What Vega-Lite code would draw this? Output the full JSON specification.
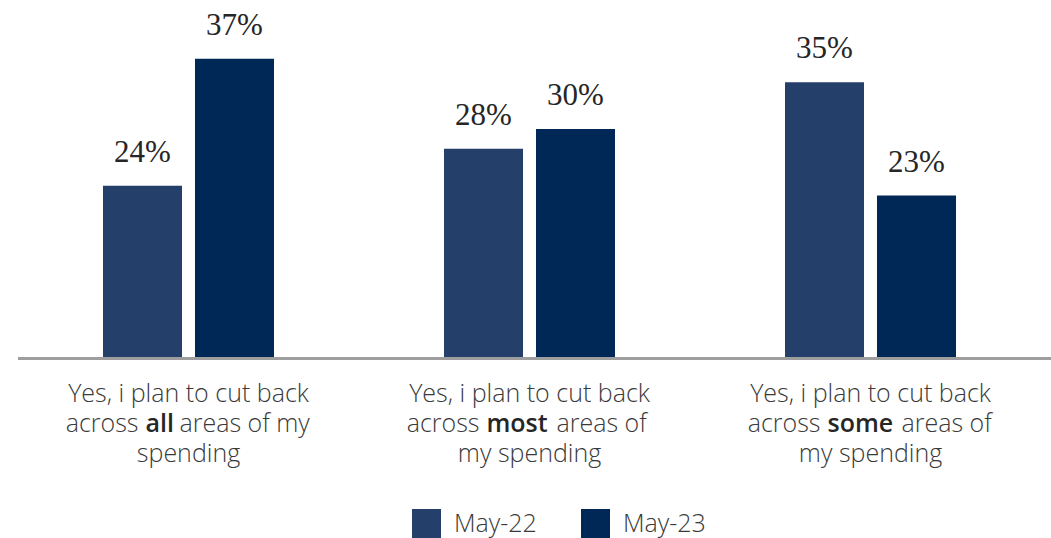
{
  "$schema": "https://vega.github.io/schema/vega-lite/v6.json",
  "width": 1033,
  "height": 357,
  "autosize": {"type": "none"},
  "padding": {"left": 18, "top": 0, "right": 0, "bottom": 181},
  "background": "white",
  "config": {"view": {"stroke": null}, "font": "Open Sans"},
  "datasets": {
    "bars": [
      {"cat": "all", "period": "May-22", "value": 0.240},
      {"cat": "all", "period": "May-23", "value": 0.370},
      {"cat": "most", "period": "May-22", "value": 0.278},
      {"cat": "most", "period": "May-23", "value": 0.298},
      {"cat": "some", "period": "May-22", "value": 0.346},
      {"cat": "some", "period": "May-23", "value": 0.230}
    ],
    "lines": [
      {"cat": "all", "l1": "Yes, i plan to cut back", "pre": "across", "bold": "all", "post": "areas of my", "l3": "spending"},
      {"cat": "most", "l1": "Yes, i plan to cut back", "pre": "across", "bold": "most", "post": "areas of", "l3": "my spending"},
      {"cat": "some", "l1": "Yes, i plan to cut back", "pre": "across", "bold": "some", "post": "areas of", "l3": "my spending"}
    ]
  },
  "resolve": {"scale": {"x": "shared", "y": "shared"}},
  "layer": [
    {
      "data": {"values": [{}]},
      "mark": {"type": "rule", "color": "#9E9E9E", "strokeWidth": 3},
      "encoding": {
        "y": {"datum": 0.0635, "type": "quantitative",
              "scale": {"domain": [0.065, 0.43], "zero": false, "nice": false}, "axis": null}
      }
    },
    {
      "data": {"name": "bars"},
      "mark": {"type": "bar"},
      "encoding": {
        "x": {
          "field": "cat", "type": "nominal", "sort": null,
          "scale": {"domain": ["all", "most", "some"], "range": [0, 1023], "paddingInner": 0, "paddingOuter": 0},
          "axis": null
        },
        "xOffset": {
          "field": "period", "type": "nominal",
          "scale": {"paddingInner": 0.1413, "paddingOuter": 0.924}
        },
        "y": {"field": "value", "type": "quantitative", "axis": null},
        "y2": {"datum": 0.065},
        "color": {
          "field": "period", "type": "nominal",
          "scale": {"domain": ["May-22", "May-23"], "range": ["#233F6A", "#002856"]},
          "legend": {
            "title": null, "orient": "none", "direction": "horizontal",
            "legendX": 394, "legendY": 509,
            "symbolType": "square", "symbolSize": 841, "symbolStrokeWidth": 0,
            "symbolOpacity": 1,
            "labelFont": "Open Sans", "labelFontWeight": 300, "labelFontSize": 25,
            "labelColor": "#3a3a3a", "labelOffset": 13, "columnPadding": 44
          }
        }
      }
    },
    {
      "data": {"name": "bars"},
      "mark": {"type": "text", "baseline": "alphabetic", "dy": -24,
               "font": "Liberation Serif", "fontSize": 31, "color": "#262626"},
      "encoding": {
        "x": {"field": "cat", "type": "nominal", "sort": null},
        "xOffset": {"field": "period", "type": "nominal"},
        "y": {"field": "value", "type": "quantitative"},
        "text": {"field": "value", "type": "quantitative", "format": ".0%"}
      }
    },
    {
      "data": {"name": "lines"},
      "mark": {"type": "text", "baseline": "alphabetic", "align": "center", "dy": 45,
               "font": "Open Sans", "fontWeight": 300, "fontSize": 25, "color": "#3a3a3a"},
      "encoding": {
        "x": {"field": "cat", "type": "nominal", "sort": null},
        "y": {"datum": 0.065, "type": "quantitative"},
        "text": {"field": "l1"}
      }
    },
    {
      "data": {"name": "lines"},
      "mark": {"type": "text", "baseline": "alphabetic", "align": "right", "dx": -50, "dy": 75,
               "font": "Open Sans", "fontWeight": 300, "fontSize": 25, "color": "#3a3a3a"},
      "encoding": {
        "x": {"field": "cat", "type": "nominal", "sort": null},
        "y": {"datum": 0.065, "type": "quantitative"},
        "text": {"field": "pre"}
      }
    },
    {
      "data": {"name": "lines"},
      "mark": {"type": "text", "baseline": "alphabetic", "align": "left", "dx": -43, "dy": 75,
               "font": "Open Sans", "fontWeight": 600, "fontSize": 25, "color": "#262626"},
      "encoding": {
        "x": {"field": "cat", "type": "nominal", "sort": null},
        "y": {"datum": 0.065, "type": "quantitative"},
        "text": {"field": "bold"}
      }
    },
    {
      "data": {"name": "lines"},
      "transform": [{"filter": "datum.cat == 'all'"}],
      "mark": {"type": "text", "baseline": "alphabetic", "align": "left", "dx": -9, "dy": 75,
               "font": "Open Sans", "fontWeight": 300, "fontSize": 25, "color": "#3a3a3a"},
      "encoding": {
        "x": {"field": "cat", "type": "nominal", "sort": null},
        "y": {"datum": 0.065, "type": "quantitative"},
        "text": {"field": "post"}
      }
    },
    {
      "data": {"name": "lines"},
      "transform": [{"filter": "datum.cat == 'most'"}],
      "mark": {"type": "text", "baseline": "alphabetic", "align": "left", "dx": 27, "dy": 75,
               "font": "Open Sans", "fontWeight": 300, "fontSize": 25, "color": "#3a3a3a"},
      "encoding": {
        "x": {"field": "cat", "type": "nominal", "sort": null},
        "y": {"datum": 0.065, "type": "quantitative"},
        "text": {"field": "post"}
      }
    },
    {
      "data": {"name": "lines"},
      "transform": [{"filter": "datum.cat == 'some'"}],
      "mark": {"type": "text", "baseline": "alphabetic", "align": "left", "dx": 31, "dy": 75,
               "font": "Open Sans", "fontWeight": 300, "fontSize": 25, "color": "#3a3a3a"},
      "encoding": {
        "x": {"field": "cat", "type": "nominal", "sort": null},
        "y": {"datum": 0.065, "type": "quantitative"},
        "text": {"field": "post"}
      }
    },
    {
      "data": {"name": "lines"},
      "mark": {"type": "text", "baseline": "alphabetic", "align": "center", "dy": 105,
               "font": "Open Sans", "fontWeight": 300, "fontSize": 25, "color": "#3a3a3a"},
      "encoding": {
        "x": {"field": "cat", "type": "nominal", "sort": null},
        "y": {"datum": 0.065, "type": "quantitative"},
        "text": {"field": "l3"}
      }
    }
  ]
}
